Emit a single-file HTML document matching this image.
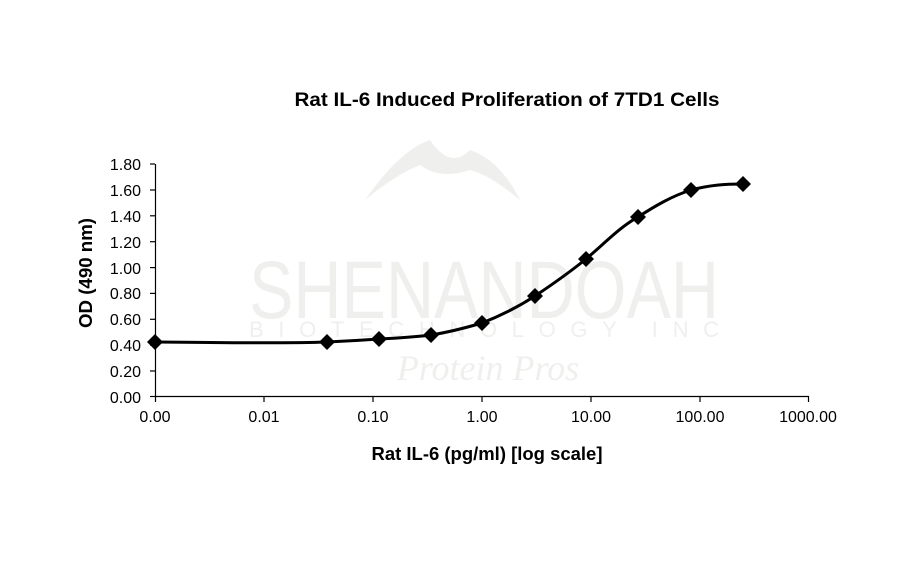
<!DOCTYPE html>
<html><head><style>body{margin:0;background:#fff}svg{display:block}</style></head><body>
<svg width="912" height="562" xmlns="http://www.w3.org/2000/svg" font-family="Liberation Sans, Arial, sans-serif">
<rect width="912" height="562" fill="#fff"/>
<g fill="#efefed">
<path d="M365 200 Q400 150 430 140 Q450 170 470 150 Q500 160 520 200 Q490 175 470 170 Q440 180 420 165 Q395 175 365 200Z"/>
<text x="484" y="318" font-size="82" text-anchor="middle" textLength="470" lengthAdjust="spacingAndGlyphs">SHENANDOAH</text>
<text x="484" y="337" font-size="22" text-anchor="middle" textLength="470" lengthAdjust="spacing">BIOTECHNOLOGY INC</text>
<text x="488" y="380" font-size="36" font-style="italic" font-family="Liberation Serif, serif" text-anchor="middle">Protein Pros</text>
</g>
<text x="507" y="106" font-size="19" font-weight="bold" text-anchor="middle" textLength="425" lengthAdjust="spacingAndGlyphs">Rat IL-6 Induced Proliferation of 7TD1 Cells</text>
<g stroke="#000" stroke-width="1.2">
<line x1="155.5" y1="164" x2="155.5" y2="397"/>
<line x1="155" y1="396.5" x2="809" y2="396.5"/>
<g>
<line x1="150" y1="164" x2="155" y2="164"/><line x1="150" y1="190" x2="155" y2="190"/><line x1="150" y1="215.8" x2="155" y2="215.8"/><line x1="150" y1="241.7" x2="155" y2="241.7"/><line x1="150" y1="267.6" x2="155" y2="267.6"/><line x1="150" y1="293.4" x2="155" y2="293.4"/><line x1="150" y1="319.3" x2="155" y2="319.3"/><line x1="150" y1="345.1" x2="155" y2="345.1"/><line x1="150" y1="371" x2="155" y2="371"/><line x1="150" y1="396.5" x2="155" y2="396.5"/>
<line x1="155.5" y1="396" x2="155.5" y2="402"/><line x1="264" y1="396" x2="264" y2="402"/><line x1="373" y1="396" x2="373" y2="402"/><line x1="482" y1="396" x2="482" y2="402"/><line x1="591" y1="396" x2="591" y2="402"/><line x1="700" y1="396" x2="700" y2="402"/><line x1="808.5" y1="396" x2="808.5" y2="402"/>
</g></g>
<g font-size="16" text-anchor="end">
<text x="141" y="170">1.80</text><text x="141" y="196">1.60</text><text x="141" y="222">1.40</text><text x="141" y="248">1.20</text><text x="141" y="274">1.00</text><text x="141" y="299">0.80</text><text x="141" y="325">0.60</text><text x="141" y="351">0.40</text><text x="141" y="377">0.20</text><text x="141" y="403">0.00</text>
</g>
<g font-size="16" text-anchor="middle">
<text x="155" y="422">0.00</text><text x="264" y="422">0.01</text><text x="373" y="422">0.10</text><text x="482" y="422">1.00</text><text x="591" y="422">10.00</text><text x="700" y="422">100.00</text><text x="808" y="422">1000.00</text>
</g>
<text x="487" y="460" font-size="18.5" font-weight="bold" text-anchor="middle" textLength="231" lengthAdjust="spacingAndGlyphs">Rat IL-6 (pg/ml) [log scale]</text>
<text transform="translate(92,273) rotate(-90)" font-size="18.5" font-weight="bold" text-anchor="middle" textLength="110" lengthAdjust="spacingAndGlyphs">OD (490 nm)</text>
<path d="M155 342 C240 343 300 343 327 342 C350 341 365 340 379 339 C400 338 415 337 431 335 C450 332 465 328 482 323 C500 316 518 307 535 296 C553 284 570 272 586 259 C605 243 620 227 638 217 C655 206 672 196 691 190 C710 185 725 184 743 184" fill="none" stroke="#000" stroke-width="3"/>
<g fill="#000">
<path d="M155 334l8 8-8 8-8-8z"/><path d="M327 334l8 8-8 8-8-8z"/><path d="M379 331l8 8-8 8-8-8z"/><path d="M431 327l8 8-8 8-8-8z"/><path d="M482 315l8 8-8 8-8-8z"/><path d="M535 288l8 8-8 8-8-8z"/><path d="M586 251l8 8-8 8-8-8z"/><path d="M638 209l8 8-8 8-8-8z"/><path d="M691 182l8 8-8 8-8-8z"/><path d="M743 176l8 8-8 8-8-8z"/>
</g>
</svg>
</body></html>
